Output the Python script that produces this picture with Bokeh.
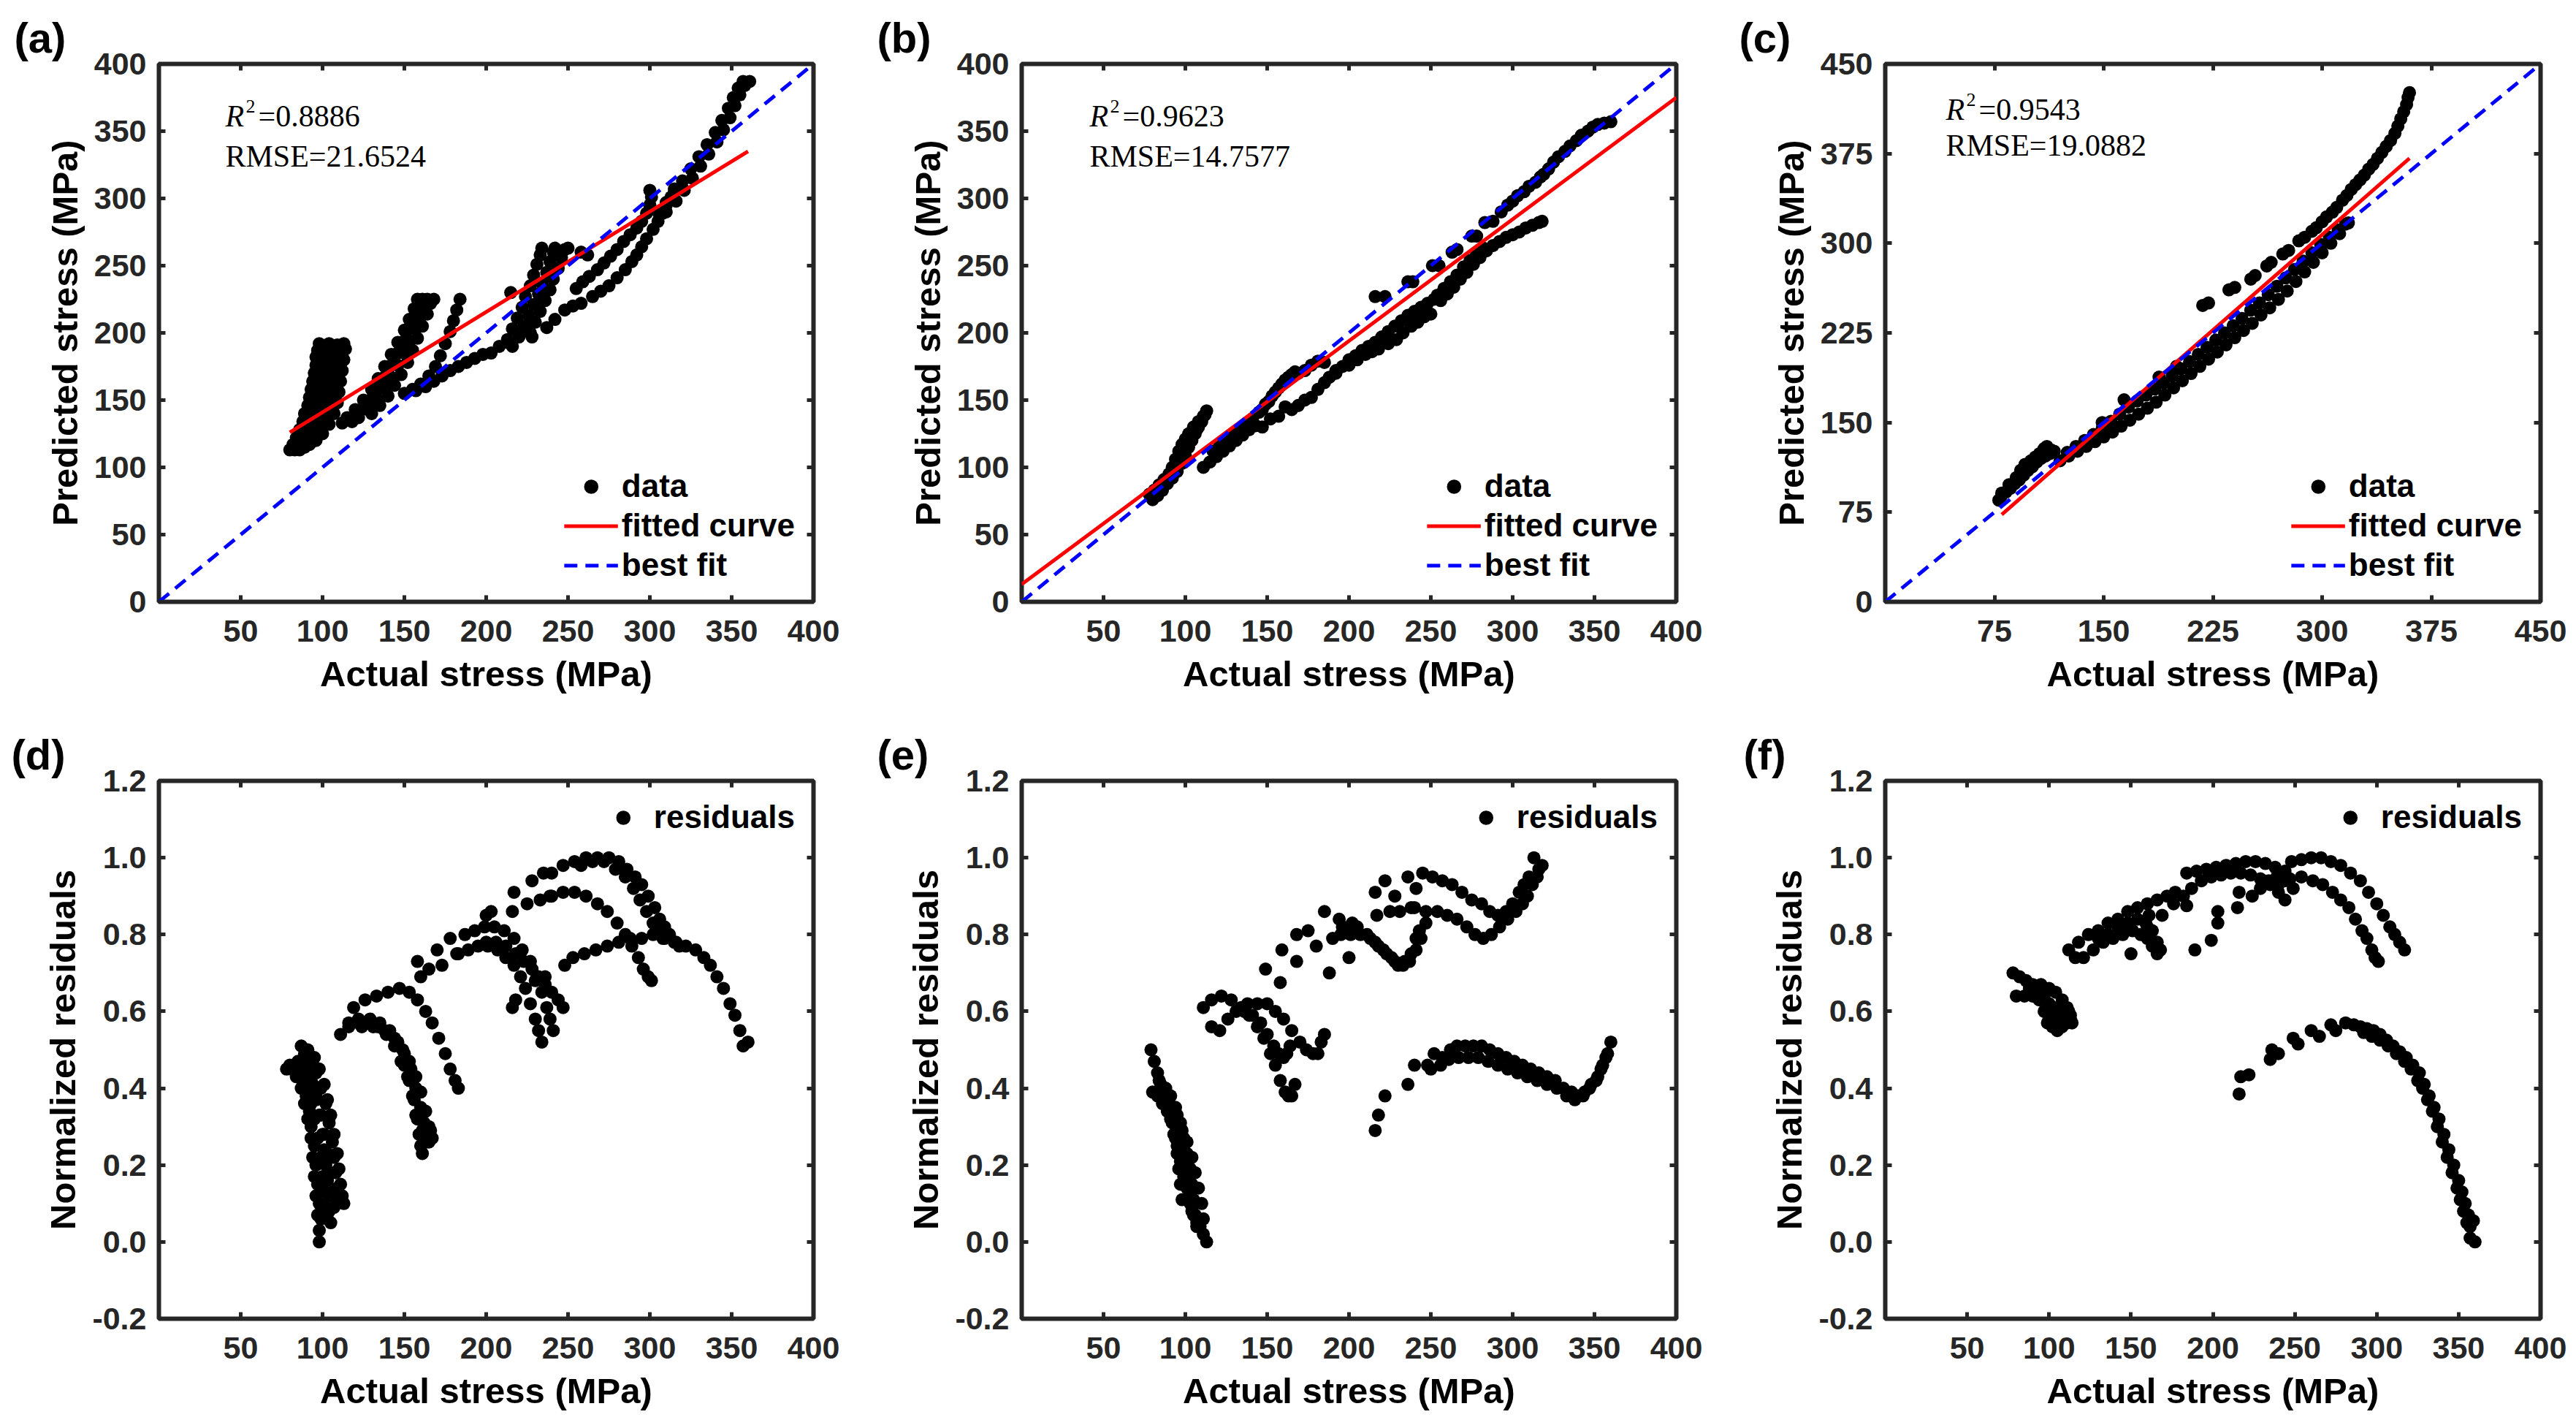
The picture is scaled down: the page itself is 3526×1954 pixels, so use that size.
from bokeh.plotting import figure
from bokeh.models import (Range1d, FixedTicker, LinearAxis, Label, Title,
                          CustomJSTickFormatter, PrintfTickFormatter)
from bokeh.layouts import column, row
from bokeh.embed import file_html
from bokeh.resources import INLINE

# ---------------- data ----------------
# panel (a): actual vs predicted (MPa)
a_points = [
    (80,113),(82,117),(84,122),(86,128),(88,134),(89,140),(91,146),(92,152),(93,158),(94,164),(95,170),(96,176),(96,182),(97,187),(98,192),
    (83,113),(85,120),(87,126),(89,131),(91,137),(92,143),(94,149),(95,155),(96,161),(97,167),(98,173),(99,179),(100,185),(101,190),
    (86,113),(88,118),(90,123),(92,129),(94,135),(95,141),(97,147),(98,153),(99,159),(100,165),(101,171),(102,177),(103,183),(103,188),(104,192),
    (89,115),(92,120),(94,126),(96,132),(98,138),(100,144),(101,150),(102,156),(104,162),(105,168),(106,174),(107,180),(108,186),(109,191),
    (92,117),(95,123),(97,129),(99,135),(101,141),(103,147),(104,153),(106,159),(107,165),(108,171),(109,177),(110,182),(111,187),(113,192),
    (96,120),(99,127),(102,134),(104,141),(106,148),(107,155),(108,162),(109,169),(111,176),(112,183),
    (100,125),(104,132),(107,140),(109,148),(110,156),(111,164),(112,172),(113,180),(114,188),
    (112,133),(118,134),
    (115,137),(120,143),(125,150),(130,158),(134,166),(138,175),(142,184),(146,193),(150,202),(153,210),(156,218),(158,225),
    (119,137),(124,143),(129,150),(134,158),(138,167),(142,176),(146,185),(150,194),(153,203),(157,212),(159,219),(161,225),
    (122,137),(128,144),(133,151),(138,159),(142,167),(146,176),(150,185),(153,194),(157,203),(160,212),(162,220),(164,225),
    (130,140),(135,146),(140,153),(144,161),(148,169),(152,178),(155,187),(158,196),(161,205),(164,214),(166,222),(168,225),
    (150,155),(155,158),(160,162),(165,168),(169,175),(172,183),(175,192),(178,201),(180,209),(182,217),(184,225),
    (157,157),(163,160),(168,164),(173,168),(178,172),(183,175),(188,178),(193,181),(198,184),(203,185),(208,190),(213,193),
    (213,195),(216,203),(219,211),(222,219),(224,227),(227,235),(229,243),(231,251),(233,258),(234,263),
    (220,197),(223,205),(226,213),(229,221),(232,229),(234,237),(237,245),(239,253),(241,260),(242,263),
    (227,200),(230,208),(233,216),(236,224),(239,232),(241,240),(244,248),(246,256),(248,262),(250,263),
    (215,230),(216,190),(225,205),(228,197),
    (237,204),(242,210),(248,217),(253,220),(258,222),(265,227),(270,231),(275,235),(280,241),(285,247),(289,253),(292,258),(295,264),(298,270),(302,277),(305,283),(308,289),(310,295),(313,301),(315,307),
    (255,233),(259,238),(263,242),(268,247),(272,252),(276,257),(280,262),(284,268),(288,273),(292,278),(295,283),(298,289),(300,295),(301,301),(300,306),
    (258,260),(262,258),
    (305,290),(310,297),(315,305),(320,313),(325,322),(330,331),(335,340),(340,349),(344,358),(348,367),(351,375),(354,382),(357,387),
    (310,290),(316,298),(321,306),(326,315),(331,324),(336,333),(341,342),(345,351),(349,360),(352,369),(355,377),(358,384),(361,387),
]
a_fit_x = [80, 360]
a_fit_y = [126, 335]

# panel (b)
b_points = [
    (78,80),(81,83),(84,87),(87,91),(90,95),(92,100),(94,106),(96,112),(98,117),(100,121),(102,125),(105,130),(108,134),(111,138),(113,142),
    (80,76),(83,79),(86,83),(89,88),(92,92),(95,97),(98,103),(100,109),(102,115),(104,120),(106,125),(108,130),(110,134),(112,139),
    (85,85),(88,90),(91,96),(94,102),(97,108),(99,114),(101,119),(104,124),(107,128),
    (111,100),(115,104),(119,108),(123,112),(127,116),(131,120),(135,124),(139,128),(143,131),(147,130),
    (117,112),(121,116),(125,120),(129,124),(133,128),(137,132),(141,136),(145,141),(149,147),(153,153),(157,159),(161,165),(165,169),(169,170),(173,172),(177,176),(181,179),(185,178),
    (147,143),(151,149),(155,156),(159,162),(163,167),(167,171),
    (152,136),(157,138),(161,145),(165,143),(169,146),(173,150),(177,152),(181,158),(185,163),(188,167),(192,172),
    (192,170),(196,175),(200,180),(204,183),(208,187),(212,190),(216,193),(220,197),(224,201),(228,205),(232,209),(236,213),(240,216),(244,219),(248,222),(252,225),
    (200,176),(205,180),(210,184),(214,186),(218,188),(224,192),(229,195),(233,200),(238,205),(242,208),(246,212),(250,214),
    (216,227),(222,227),(236,238),(239,238),(251,250),(255,250),(263,260),(266,262),(275,272),(278,272),(283,282),(288,283),(293,290),(297,295),(300,298),(303,302),(307,305),(310,309),(314,312),(317,316),(319,318),(322,322),(325,327),(328,331),(332,335),(335,339),(339,343),(342,347),(346,350),(349,353),(352,355),(356,356),(360,357),
    (256,224),(260,229),(264,234),(268,240),(272,245),(276,251),(280,256),(284,261),(288,265),(292,268),(296,271),(300,273),(304,275),(308,278),(312,280),(316,282),(318,283),
    (254,228),(258,233),(262,238),(266,243),(270,249),(274,254),(278,259),(282,263),
]
b_fit_x = [0, 400]
b_fit_y = [13, 375]

# panel (c)
c_points = [
    (78,85),(80,89),(83,92),(86,95),(89,99),(92,102),(95,106),(98,110),(101,113),(104,117),(107,120),(110,122),(113,124),(116,126),
    (80,91),(85,98),(90,104),(93,110),(96,115),(100,118),(103,121),(106,124),(109,128),(111,130),(114,127),
    (120,118),(126,122),(132,126),(138,130),(144,134),(150,138),(156,142),(162,147),(168,152),(174,157),(180,162),(186,167),(192,173),(198,179),(204,185),(210,191),(216,197),(222,203),(228,209),(234,215),(240,221),(246,227),(252,233),(258,240),(264,246),(270,253),(276,260),(282,268),(288,276),(294,284),(300,292),(306,300),(312,308),(318,317),
    (125,125),(131,130),(137,135),(143,140),(149,145),(155,151),(161,157),(167,163),(173,168),(179,173),(185,178),(191,183),(197,189),(203,195),(209,201),(215,207),(221,213),(227,219),(233,225),(239,231),(245,237),(251,244),(257,250),(263,257),(269,264),(275,271),(281,278),(287,285),(293,292),(299,299),(305,305),(311,311),(316,316),
    (149,150),(164,169),(188,188),(200,197),
    (218,248),(222,250),(236,261),(240,263),(251,270),(254,273),(262,281),(265,284),(273,291),(277,294),(284,302),(288,305),(293,310),(296,313),(300,318),(303,322),(307,326),(310,330),(314,336),(317,340),(320,345),(323,349),(326,353),(329,357),(332,362),(335,366),(338,371),(341,376),(344,381),(347,386),(350,392),(352,398),(354,404),(356,410),(358,416),(359,422),(360,426),
]
c_fit_x = [80, 360]
c_fit_y = [73, 371]

# panel (d): normalized residuals
d_points = [
    (78,0.45),(81,0.45),(84,0.43),(87,0.40),(89,0.36),(91,0.32),(93,0.27),(94,0.22),(95,0.17),(96,0.12),(97,0.07),(98,0.03),(98,0.0),
    (80,0.46),(83,0.455),(86,0.44),(88,0.41),(90,0.38),(92,0.34),(93,0.30),(95,0.25),(96,0.20),(97,0.15),(98,0.10),(99,0.06),
    (82,0.46),(85,0.45),(88,0.43),(91,0.40),(93,0.36),(95,0.32),(97,0.27),(99,0.22),(100,0.17),(101,0.13),(102,0.09),(103,0.06),(105,0.05),
    (85,0.47),(88,0.46),(91,0.44),(94,0.41),(96,0.37),(98,0.33),(100,0.28),(101,0.24),(102,0.20),(103,0.16),(104,0.12),(104,0.08),
    (87,0.51),(91,0.50),(95,0.48),(98,0.45),(101,0.41),(103,0.37),(105,0.33),(107,0.28),(109,0.23),(110,0.19),(111,0.15),(112,0.12),(113,0.10),
    (89,0.49),(93,0.47),(96,0.44),(99,0.40),(102,0.36),(104,0.31),(106,0.26),(107,0.22),(108,0.18),(109,0.14),(110,0.11),
    (90,0.44),(93,0.42),(96,0.38),(99,0.33),(101,0.28),(103,0.23),(105,0.18),(106,0.13),(107,0.09),
    (111,0.54),(116,0.56),(122,0.57),(128,0.57),(134,0.56),(139,0.54),(144,0.51),(148,0.47),(152,0.43),(155,0.38),(157,0.33),(159,0.28),(160,0.25),(161,0.23),
    (116,0.57),(122,0.58),(129,0.58),(135,0.57),(141,0.55),(146,0.52),(150,0.49),(154,0.45),(157,0.40),(160,0.35),(162,0.31),(164,0.28),(165,0.26),
    (124,0.56),(131,0.56),(138,0.55),(144,0.53),(149,0.50),(153,0.47),(157,0.43),(160,0.39),(163,0.34),(165,0.30),(167,0.27),
    (150,0.46),(153,0.42),(156,0.37),(158,0.32),(161,0.29),(163,0.26),(166,0.29),
    (119,0.61),(126,0.63),(133,0.64),(140,0.65),(147,0.66),(153,0.65),(158,0.63),(163,0.60),(167,0.57),(171,0.53),(175,0.49),(178,0.45),(181,0.42),(183,0.40),
    (158,0.73),(160,0.69),(165,0.71),(170,0.76),(173,0.72),(178,0.79),(182,0.75),
    (183,0.75),(189,0.76),(195,0.77),(201,0.77),(207,0.76),(212,0.74),(217,0.72),(221,0.69),(224,0.66),(227,0.62),(230,0.58),(232,0.55),(234,0.52),
    (187,0.80),(193,0.81),(199,0.82),(205,0.82),(211,0.81),(217,0.79),(222,0.76),(227,0.73),(231,0.69),(234,0.65),(237,0.61),(239,0.58),(241,0.55),
    (200,0.78),(206,0.78),(212,0.77),(218,0.75),(223,0.73),(228,0.71),(232,0.69),(236,0.67),(240,0.65),(244,0.63),(247,0.61),
    (200,0.85),(203,0.86),(216,0.86),(217,0.91),(225,0.88),(228,0.94),(235,0.96),(239,0.90),(216,0.61),(218,0.63),(230,0.68),(236,0.69),
    (240,0.96),(247,0.98),(254,0.99),(261,1.0),(268,1.0),(275,1.0),(281,0.99),(286,0.97),(291,0.95),(295,0.93),(299,0.90),(303,0.87),(306,0.84),(309,0.82),(312,0.80),(315,0.78),(318,0.77),
    (258,0.98),(265,0.99),(272,0.99),(279,0.97),(285,0.95),(290,0.92),(294,0.89),(298,0.86),(302,0.83),(305,0.81),(308,0.79),
    (233,0.89),(240,0.90),(247,0.91),(254,0.91),(261,0.90),(268,0.88),(274,0.86),(280,0.83),(285,0.80),(289,0.77),(293,0.74),(296,0.71),(299,0.69),(301,0.68),
    (248,0.72),(253,0.74),(260,0.75),(267,0.76),(274,0.77),(281,0.78),(288,0.79),(295,0.79),(302,0.80),(309,0.79),(316,0.78),(322,0.77),(328,0.76),(333,0.74),(337,0.72),(341,0.69),(345,0.66),(349,0.62),(352,0.59),(355,0.55),(357,0.51),(360,0.52),
]

# panel (e)
e_points = [
    (79,0.50),(81,0.47),(83,0.44),(85,0.41),(87,0.38),(89,0.35),(91,0.32),(93,0.28),(95,0.25),(97,0.21),(99,0.17),(101,0.14),(103,0.10),(105,0.07),(107,0.05),(109,0.04),(111,0.02),(113,0.0),
    (80,0.39),(83,0.38),(86,0.36),(89,0.34),(92,0.31),(94,0.27),(95,0.23),(96,0.19),(97,0.15),(98,0.11),
    (84,0.42),(87,0.39),(90,0.36),(93,0.33),(96,0.29),(98,0.25),(100,0.20),(102,0.16),(103,0.12),(104,0.08),
    (88,0.40),(91,0.38),(94,0.35),(97,0.31),(99,0.27),(101,0.23),(103,0.19),(104,0.15),(105,0.11),(106,0.07),(107,0.04),
    (95,0.33),(98,0.29),(101,0.26),(104,0.22),(106,0.18),(108,0.14),(110,0.10),(111,0.06),
    (111,0.61),(116,0.63),(122,0.64),(128,0.63),(134,0.61),(139,0.59),(144,0.56),(148,0.53),(152,0.49),(155,0.46),(158,0.42),(161,0.39),(163,0.38),(165,0.38),(167,0.41),
    (116,0.56),(121,0.55),(126,0.58),(131,0.60),(136,0.60),(141,0.59),(146,0.57),(150,0.54),(154,0.51),(157,0.49),(160,0.48),(162,0.49),(164,0.51),
    (138,0.62),(144,0.62),(150,0.62),(155,0.60),(160,0.58),(165,0.55),(170,0.52),(174,0.50),(178,0.49),(181,0.49),(183,0.52),(185,0.54),
    (149,0.71),(158,0.675),(159,0.76),(168,0.73),(168,0.80),(175,0.81),(180,0.77),(185,0.86),(188,0.70),(190,0.79),(194,0.84),(200,0.74),(202,0.83),(196,0.82),
    (195,0.80),(201,0.80),(207,0.80),(213,0.79),(218,0.77),(223,0.75),(228,0.73),(233,0.72),(237,0.73),(241,0.76),(244,0.79),(247,0.83),
    (205,0.82),(211,0.80),(216,0.78),(221,0.76),(226,0.74),(230,0.72),(234,0.73),(238,0.75),(241,0.79),(243,0.81),
    (216,0.91),(217,0.85),(222,0.94),(225,0.86),(228,0.90),(231,0.86),(236,0.95),(238,0.87),(241,0.92),
    (245,0.96),(251,0.95),(257,0.94),(263,0.93),(269,0.91),(275,0.89),(281,0.88),(286,0.86),(291,0.85),(296,0.86),(300,0.88),(304,0.91),(307,0.93),(310,0.95),(313,1.0),(316,0.97),(318,0.98),
    (240,0.87),(247,0.86),(254,0.86),(260,0.85),(266,0.84),(272,0.82),(277,0.80),(282,0.79),(287,0.80),(292,0.82),(297,0.84),(302,0.86),(306,0.88),(309,0.90),(312,0.93),(315,0.95),
    (216,0.29),(218,0.33),(222,0.38),(236,0.41),(240,0.46),(248,0.46),(252,0.49),(257,0.48),(262,0.50),(266,0.51),(271,0.51),(276,0.51),(281,0.51),(286,0.50),(291,0.49),(296,0.48),(301,0.47),(306,0.46),(311,0.45),(316,0.44),(321,0.43),(326,0.42),(331,0.40),(336,0.39),(340,0.38),(344,0.39),(348,0.41),(352,0.43),(355,0.46),(358,0.49),(360,0.52),
    (250,0.45),(256,0.46),(261,0.475),(267,0.48),(273,0.48),(279,0.48),(285,0.47),(291,0.46),(297,0.45),(303,0.44),(309,0.43),(315,0.42),(321,0.41),(327,0.40),(333,0.38),(338,0.37),(343,0.38),(347,0.40),(351,0.42),(354,0.45),(357,0.48),
]

# panel (f)
f_points = [
    (78,0.70),(82,0.69),(86,0.68),(90,0.67),(95,0.67),(100,0.66),(104,0.65),(108,0.63),(111,0.61),(113,0.59),(114,0.57),
    (80,0.64),(85,0.64),(90,0.64),(94,0.63),(97,0.60),(99,0.57),(102,0.56),(105,0.55),(108,0.56),(111,0.57),(113,0.58),
    (88,0.66),(93,0.65),(97,0.64),(100,0.62),(103,0.61),(106,0.60),(109,0.60),(112,0.60),(100,0.59),(104,0.58),(108,0.58),
    (112,0.76),(118,0.78),(124,0.80),(130,0.81),(136,0.83),(142,0.84),(148,0.86),(154,0.87),(160,0.88),(166,0.89),(172,0.90),(177,0.91),(182,0.90),
    (116,0.74),(121,0.74),(127,0.76),(133,0.78),(139,0.79),(145,0.80),(151,0.81),(156,0.80),(160,0.79),(163,0.77),(166,0.75),
    (130,0.79),(136,0.80),(142,0.82),(148,0.83),(154,0.84),(159,0.83),(163,0.81),(166,0.78),(168,0.76),
    (150,0.75),(160,0.82),(161,0.85),(169,0.85),(176,0.88),(184,0.875),(189,0.76),(199,0.785),(203,0.83),(203,0.86),(215,0.87),(216,0.91),
    (184,0.96),(190,0.965),(196,0.97),(202,0.975),(208,0.98),(214,0.985),(220,0.99),(226,0.99),(232,0.985),(238,0.975),(244,0.965),
    (187,0.92),(193,0.94),(199,0.95),(205,0.955),(211,0.96),(217,0.96),(223,0.955),(229,0.945),(235,0.93),(240,0.91),(244,0.89),
    (224,0.90),(229,0.92),(234,0.94),(239,0.95),(244,0.94),(249,0.92),
    (248,0.99),(254,0.995),(260,1.0),(266,1.0),(272,0.99),(278,0.98),(284,0.96),(290,0.94),(295,0.91),(300,0.88),(304,0.85),(308,0.82),(311,0.80),(314,0.78),(317,0.76),
    (240,0.93),(247,0.945),(254,0.95),(261,0.94),(267,0.93),(273,0.91),(278,0.89),(283,0.87),(287,0.84),(291,0.81),(294,0.79),(297,0.76),(299,0.74),(301,0.73),
    (216,0.385),(217,0.43),(222,0.435),(235,0.475),(236,0.50),(240,0.49),(249,0.53),(252,0.515),(260,0.55),(265,0.535),(272,0.565),(275,0.55),(281,0.57),(286,0.565),(290,0.56),(294,0.555),(298,0.55),(302,0.54),(306,0.525),(310,0.51),(314,0.495),(318,0.48),(322,0.46),(326,0.44),(329,0.41),(332,0.38),(335,0.35),(338,0.32),(341,0.28),(344,0.24),(347,0.20),(350,0.16),(352,0.13),(354,0.10),(356,0.07),(357,0.04),(357,0.01),(360,0.0),
    (292,0.545),(297,0.535),(302,0.525),(307,0.51),(312,0.49),(317,0.47),(321,0.45),(325,0.42),(328,0.40),(331,0.37),(334,0.34),(337,0.30),(340,0.26),(343,0.22),(346,0.18),(349,0.14),(351,0.11),(353,0.08),(355,0.05),(359,0.055),
]

best_ab = [0, 400]
best_c = [0, 450]

ticks_400 = [50, 100, 150, 200, 250, 300, 350, 400]
yticks_400 = [0, 50, 100, 150, 200, 250, 300, 350, 400]
ticks_450 = [75, 150, 225, 300, 375, 450]
yticks_450 = [0, 75, 150, 225, 300, 375, 450]
res_yticks = [-0.2, 0.0, 0.2, 0.4, 0.6, 0.8, 1.0, 1.2]

stats = {"a": ("0.8886", "21.6524"), "b": ("0.9623", "14.7577"), "c": ("0.9543", "19.0882")}

# ---------------- styling ----------------
AX = "#262626"
SANS = "Liberation Sans"
SERIF = "Liberation Serif"
FH = 736


def make_panel(xr, yr, xticks, yticks, ylabel, fw, bl, br, bt, bb, tag, tag_dx, yfmt=None):
    p = figure(frame_width=fw, frame_height=FH, x_range=Range1d(*xr), y_range=Range1d(*yr),
               output_backend="svg", toolbar_location=None,
               min_border_left=bl, min_border_right=br, min_border_top=bt, min_border_bottom=bb,
               background_fill_color="white", border_fill_color="white",
               title=Title(text=tag, align="left", offset=-tag_dx, standoff=8,
                           text_font=SANS, text_font_style="bold", text_font_size="58px",
                           text_color="black"))
    p.grid.visible = False
    p.outline_line_color = AX
    p.outline_line_width = 6
    p.add_layout(LinearAxis(), "above")
    p.add_layout(LinearAxis(), "right")
    for ax in p.axis:
        ax.axis_line_color = None
        ax.major_tick_in = 9
        ax.major_tick_out = 0
        ax.major_tick_line_width = 5
        ax.major_tick_line_color = AX
        ax.minor_tick_line_color = None
        ax.major_label_text_font = SANS
        ax.major_label_text_font_style = "bold"
        ax.major_label_text_font_size = "43px"
        ax.major_label_text_color = AX
        ax.axis_label_text_font = SANS
        ax.axis_label_text_font_style = "bold"
        ax.axis_label_text_font_size = "49px"
        ax.axis_label_text_color = "black"
    for ax in p.xaxis:
        ax.ticker = FixedTicker(ticks=xticks, minor_ticks=[])
    for ax in p.yaxis:
        ax.ticker = FixedTicker(ticks=yticks, minor_ticks=[])
    for ax in (p.above[0], p.right[0]):
        ax.formatter = CustomJSTickFormatter(code="return ''")
        ax.major_label_text_font_size = "0px"
        ax.major_label_standoff = 0
    bx = p.below[0]
    bx.axis_label = "Actual stress (MPa)"
    bx.major_label_standoff = 25
    bx.axis_label_standoff = 14
    ly = p.left[0]
    ly.axis_label = ylabel
    ly.major_label_standoff = 17
    ly.axis_label_standoff = 10
    if yfmt is not None:
        ly.formatter = yfmt
    return p


def add_stats(p, r2, rmse, dx, y1, y2):
    x0, y0 = p.x_range.start, p.y_range.end
    common = dict(x=x0, y=y0, text_font=SERIF, text_color="black", text_baseline="alphabetic")
    p.add_layout(Label(x_offset=dx, y_offset=-y1, text="R", text_font_style="italic",
                       text_font_size="42px", **common))
    p.add_layout(Label(x_offset=dx + 28, y_offset=-y1 + 13, text="2",
                       text_font_size="26px", **common))
    p.add_layout(Label(x_offset=dx + 45, y_offset=-y1, text="=" + r2,
                       text_font_size="42px", **common))
    p.add_layout(Label(x_offset=dx, y_offset=-y2, text="RMSE=" + rmse,
                       text_font_size="42px", **common))


def style_legend(p, loc):
    lg = p.legend[0]
    lg.location = loc
    lg.label_text_font = SANS
    lg.label_text_font_style = "bold"
    lg.label_text_font_size = "44px"
    lg.label_text_color = "black"
    lg.border_line_color = None
    lg.background_fill_alpha = 0
    lg.glyph_width = 74
    lg.glyph_height = 49
    lg.label_height = 49
    lg.label_standoff = 5
    lg.spacing = 4
    lg.padding = 2
    lg.margin = 25


def fit_panel(points, fit_x, fit_y, best, xr, yr, xt, yt, fw, bl, br, bt, bb, tag, tag_dx, key, sdx, sy1, sy2):
    p = make_panel(xr, yr, xt, yt, "Predicted stress (MPa)", fw, bl, br, bt, bb, tag, tag_dx)
    xs = [q[0] for q in points]
    ys = [q[1] for q in points]
    p.scatter(xs, ys, marker="circle", size=18, fill_color="black", line_color=None, legend_label="data")
    p.line(fit_x, fit_y, line_color="#FF0000", line_width=5, legend_label="fitted curve")
    p.line(best, best, line_color="#0000FF", line_width=5, line_dash="18 11", legend_label="best fit")
    style_legend(p, "bottom_right")
    r2, rmse = stats[key]
    add_stats(p, r2, rmse, sdx, sy1, sy2)
    return p


def res_panel(points, fw, bl, br, bt, bb, tag, tag_dx):
    p = make_panel((0, 400), (-0.2, 1.2), ticks_400, res_yticks, "Normalized residuals", fw, bl, br, bt, bb,
                   tag, tag_dx, yfmt=PrintfTickFormatter(format="%.1f"))
    xs = [q[0] for q in points]
    ys = [q[1] for q in points]
    p.scatter(xs, ys, marker="circle", size=18, fill_color="black", line_color=None, legend_label="residuals")
    style_legend(p, "top_right")
    return p


pa = fit_panel(a_points, a_fit_x, a_fit_y, best_ab, (0, 400), (0, 400), ticks_400, yticks_400,
               896, 217, 65, 87, 162, "(a)", 198, "a", 91, 71, 126)
pb = fit_panel(b_points, b_fit_x, b_fit_y, best_ab, (0, 400), (0, 400), ticks_400, yticks_400,
               896, 220, 54, 87, 162, "(b)", 198, "b", 93, 71, 126)
pc = fit_panel(c_points, c_fit_x, c_fit_y, best_c, (0, 450), (0, 450), ticks_450, yticks_450,
               897, 232, 41, 87, 162, "(c)", 200, "c", 83, 62, 111)
pd = res_panel(d_points, 896, 217, 65, 83, 148, "(d)", 202)
pe = res_panel(e_points, 896, 220, 54, 83, 148, "(e)", 198)
pf = res_panel(f_points, 897, 232, 41, 83, 148, "(f)", 194)

layout = column(row(pa, pb, pc), row(pd, pe, pf))
open("out.html", "w").write(file_html(layout, INLINE))
